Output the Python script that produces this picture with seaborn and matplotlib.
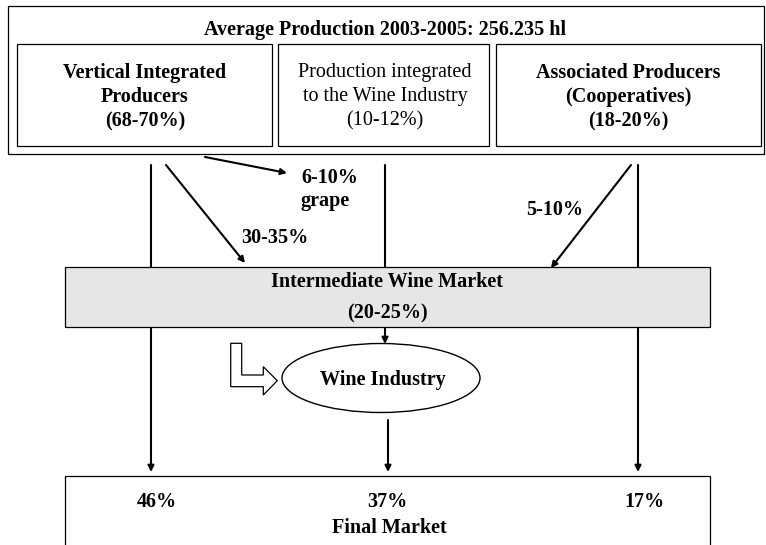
import matplotlib
matplotlib.use("Agg")
import matplotlib.pyplot as plt
import seaborn as sns
from matplotlib.patches import Rectangle, Ellipse, Polygon

sns.set_theme(style="white")
plt.rcParams['font.family'] = ['Liberation Serif', 'DejaVu Serif']
plt.rcParams['text.color'] = 'black'

# ---- data ----
title = "Average Production 2003-2005: 256.235 hl"
producer_labels = [["Vertical Integrated", "Producers", "(68-70%)"],
                   ["Production integrated", "to the Wine Industry", "(10-12%)"],
                   ["Associated Producers", "(Cooperatives)", "(18-20%)"]]
producer_weights = ["bold", "normal", "bold"]
flow_labels = ["6-10%", "grape", "30-35%", "5-10%"]
intermediate_label = ["Intermediate Wine Market", "(20-25%)"]
industry_label = "Wine Industry"
final_shares = ["46%", "37%", "17%"]
final_label = "Final Market"

fig = plt.figure(figsize=(7.66, 5.45), dpi=100)
ax = fig.add_axes([0, 0, 1, 1])
ax.set_xlim(0, 766)
ax.set_ylim(545, 0)
ax.axis("off")

K = "black"
FS = 14.5

def txt(x, y, s, w="bold", z=4):
    ax.text(x, y, s, ha="center", va="center", fontsize=FS, fontweight=w,
            color=K, zorder=z)

# outer top box
ax.add_patch(Rectangle((8, 6), 756, 148, fill=False, ec=K, lw=0.9))
txt(385, 30, title)

# producer boxes
boxes = [(17, 272), (278, 489), (496, 761)]
centers = [145, 385, 628]
for (x0, x1), cx, lines, w in zip(boxes, centers, producer_labels, producer_weights):
    ax.add_patch(Rectangle((x0, 44), x1 - x0, 102, fill=False, ec=K, lw=0.9))
    for y, s in zip([73, 97, 121], lines):
        txt(cx, y, s, w)

# intermediate market box
ax.add_patch(Rectangle((65, 267), 645, 60, fc="#e6e6e6", ec=K, lw=0.9, zorder=3))
txt(387, 282, intermediate_label[0])
txt(387, 313, intermediate_label[1])

def arrow(x0, y0, x1, y1, z=2):
    ax.annotate("", xy=(x1, y1), xytext=(x0, y0),
                arrowprops=dict(arrowstyle="-|>", color=K, lw=1.5,
                                mutation_scale=9, shrinkA=0, shrinkB=0),
                zorder=z)

# vertical long lines (behind intermediate box)
arrow(151, 165, 151, 472, z=1)
arrow(638, 165, 638, 472, z=1)
ax.plot([385, 385], [165, 267], color=K, lw=1.5, zorder=1)

# diagonal arrows
arrow(205, 157, 287, 173)
arrow(166, 165, 245, 263)
arrow(631, 165, 551, 268)
txt(330, 178, flow_labels[0])
txt(325, 201, flow_labels[1])
txt(275, 238, flow_labels[2])
txt(555, 210, flow_labels[3])

# wine industry
arrow(385, 327, 385, 344)
ax.add_patch(Ellipse((381, 378), 198, 69, fill=False, ec=K, lw=1.0))
txt(383, 380, industry_label)
arrow(388, 420, 388, 472)

# hollow L arrow
pts = [(230.7, 343.3), (241.7, 343.3), (241.7, 375), (263.3, 375), (263.3, 366.7),
       (277.3, 380.7), (263.3, 395), (263.3, 386.7), (230.7, 386.7)]
ax.add_patch(Polygon(pts, closed=True, fc="white", ec=K, lw=0.9))

# final market box
ax.add_patch(Rectangle((65, 476), 645, 80, fill=False, ec=K, lw=0.9))
for x, s in zip([157, 387, 644], final_shares):
    txt(x, 502, s)
txt(389, 528, final_label)

fig.savefig("out.png", dpi=100)
